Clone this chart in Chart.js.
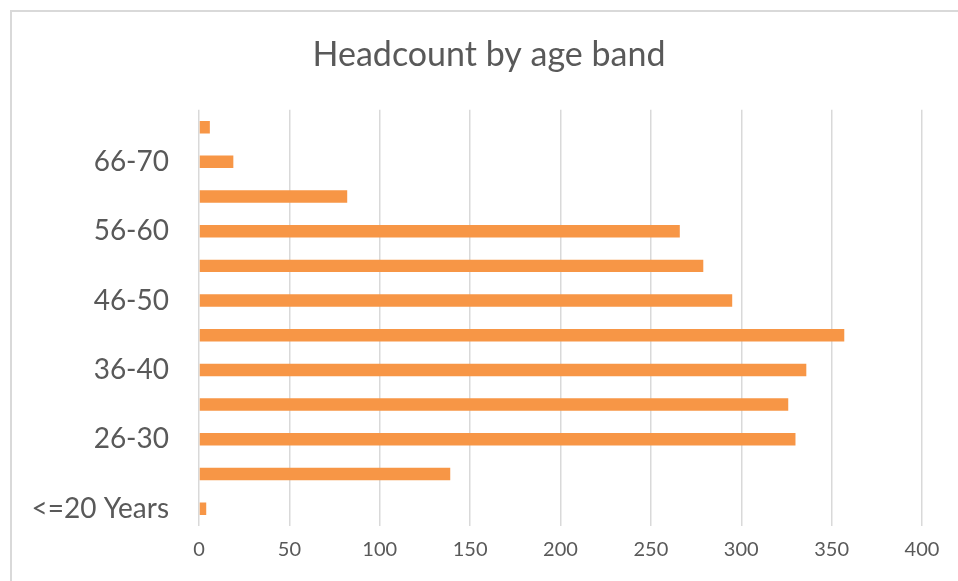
<!DOCTYPE html>
<html>
<head>
<meta charset="utf-8">
<script src="https://cdn.jsdelivr.net/npm/chart.js@4.4.1/dist/chart.umd.min.js"></script>
<style>
  body { margin: 0; background: #fff; }
  #wrap { position: relative; width: 958px; height: 581px; }
  #frame { position: absolute; left: 10px; top: 10px; right: -5px; bottom: -5px;
           border-left: 2px solid #d9d9d9; border-top: 2px solid #d9d9d9; pointer-events: none; }
</style>
</head>
<body>
<div id="wrap">
  <canvas id="myChart" width="958" height="581"></canvas>
  <div id="frame"></div>
</div>
<script>
// faixas etárias, de baixo para cima
const ageBands = ['<=20 Years', '21-25', '26-30', '31-35', '36-40', '41-45',
                  '46-50', '51-55', '56-60', '61-65', '66-70', '>70'];
// quantidade de pessoas em cada faixa
const headcount = [4, 139, 330, 326, 336, 357, 295, 279, 266, 82, 19, 6];
// marcas do eixo x
const xTicks = [0, 50, 100, 150, 200, 250, 300, 350, 400];

const textColor = '#595959';
const fontName = 'Lato';

// empurra o título um pouco para a direita (como no original)
const titleShift = {
    id: 'titleShift',
    afterLayout(chart) {
        const t = chart.titleBlock;
        if (t) { t.left += 18; t.right += 18; }
    }
};

const ctx = document.getElementById('myChart');

new Chart(ctx, {
    type: 'bar',
    data: {
        labels: ageBands,
        datasets: [{
            label: 'Headcount',
            data: headcount,
            backgroundColor: '#F79646',
            borderWidth: 0,
            barPercentage: 0.36,
            categoryPercentage: 1
        }]
    },
    options: {
        indexAxis: 'y',
        responsive: false,
        animation: false,
        layout: { padding: { left: 20, right: 36, top: 0, bottom: 7 } },
        plugins: {
            legend: { display: false },
            tooltip: { enabled: false },
            title: {
                display: true,
                text: 'Headcount by age band',
                color: textColor,
                font: { family: fontName, size: 34, weight: 'normal' },
                padding: { top: 35, bottom: 34 }
            }
        },
        scales: {
            x: {
                min: xTicks[0],
                max: xTicks[xTicks.length - 1],
                afterBuildTicks: (scale) => { scale.ticks = xTicks.map(v => ({ value: v })); },
                grid: { color: '#d9d9d9', lineWidth: 1.5, drawTicks: false },
                border: { display: false },
                ticks: {
                    color: textColor,
                    padding: 12,
                    font: { family: fontName, size: 20 }
                }
            },
            y: {
                reverse: true,
                grid: { display: false, drawTicks: false },
                border: { display: false },
                afterFit: (scale) => { scale.width = 179; },
                ticks: {
                    autoSkip: false,
                    color: textColor,
                    padding: 30,
                    font: { family: fontName, size: 28 },
                    callback: function (value, index) {
                        return index % 2 === 0 ? this.getLabelForValue(value) : '';
                    }
                }
            }
        }
    },
    plugins: [titleShift]
});
</script>
</body>
</html>
